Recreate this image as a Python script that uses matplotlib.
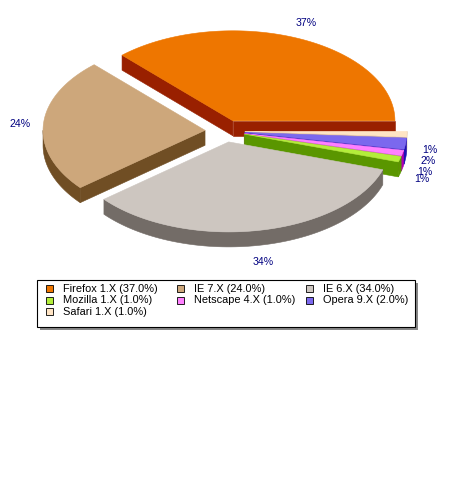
import numpy as np
import matplotlib.pyplot as plt
from matplotlib.patches import Polygon, Rectangle

# data
browsers = ['Firefox 1.X', 'IE 7.X', 'IE 6.X', 'Mozilla 1.X', 'Netscape 4.X', 'Opera 9.X', 'Safari 1.X']
shares = [37.0, 24.0, 34.0, 1.0, 1.0, 2.0, 1.0]
top_colors = ['#EE7600', '#CDA77B', '#CDC6C0', '#B3EE3A', '#FF80FF', '#7B68EE', '#FFE4C4']
side_colors = ['#992000', '#704E24', '#736C67', '#5A9600', '#B000B0', '#1E10B4', '#D8B894']

# geometry (pixels)
cx, cy = 225.0, 131.0
rx, ry = 162.0, 90.0
depth = 15.0
explode = 20.0 / rx

fig = plt.figure(figsize=(4.5, 5), dpi=100)
ax = fig.add_axes([0, 0, 1, 1])
ax.set_xlim(0, 450)
ax.set_ylim(500, 0)
ax.axis('off')


def pt(x0, y0, th):
    return (x0 + rx * np.cos(th), y0 - ry * np.sin(th))


total = sum(shares)
angles = np.cumsum([0] + shares) / total * 2 * np.pi
slices = []
for i in range(len(shares)):
    a, b = angles[i], angles[i + 1]
    mid = (a + b) / 2
    ox = cx + explode * rx * np.cos(mid)
    oy = cy - explode * ry * np.sin(mid)
    slices.append((oy, i, a, b, ox))

# back to front
slices.sort()
z = 1
for oy, i, a, b, ox in slices:
    sc = side_colors[i]
    polys = []
    # radial faces facing the viewer
    for th, vis in ((a, np.cos(a) > 0), (b, np.cos(b) < 0)):
        if vis:
            ex, ey = pt(ox, oy, th)
            polys.append([(ox, oy), (ex, ey), (ex, ey + depth), (ox, oy + depth)])
    # curved front side
    lo, hi = max(a, np.pi), min(b, 2 * np.pi)
    if hi > lo:
        th = np.linspace(lo, hi, 80)
        xs = ox + rx * np.cos(th)
        ys = oy - ry * np.sin(th)
        pts = list(zip(xs, ys)) + list(zip(xs[::-1], ys[::-1] + depth))
        polys.append(pts)
    for p in polys:
        ax.add_patch(Polygon(p, closed=True, facecolor=sc, edgecolor=sc, lw=0.4, zorder=z))
    th = np.linspace(a, b, 120)
    top = [(ox, oy)] + list(zip(ox + rx * np.cos(th), oy - ry * np.sin(th)))
    ax.add_patch(Polygon(top, closed=True, facecolor=top_colors[i], edgecolor=top_colors[i],
                         lw=0.4, zorder=z + 1))
    z += 2

# percentage labels
for i in range(len(shares)):
    mid = (angles[i] + angles[i + 1]) / 2
    lx = cx + 205 * np.cos(mid)
    ly = cy - 118 * np.sin(mid)
    if np.sin(mid) < 0:
        ly += depth
    ax.text(lx, ly, '%d%%' % round(shares[i] / total * 100), color='#000080',
            fontsize=7.6, family='Liberation Sans', ha='center', va='center', zorder=50)

# legend box
ax.add_patch(Rectangle((40, 283), 378, 47, facecolor='#888888', edgecolor='none', zorder=40))
ax.add_patch(Rectangle((37, 280), 378, 47, facecolor='white', edgecolor='black', lw=0.8, zorder=41))
col_x = [46, 177, 306]
for i, name in enumerate(browsers):
    r, c = divmod(i, 3)
    y = 288.5 + r * 11.6
    ax.add_patch(Rectangle((col_x[c], y - 3.5), 7, 7, facecolor=top_colors[i],
                           edgecolor='black', lw=0.6, zorder=42))
    ax.text(col_x[c] + 17, y, '%s (%.1f%%)' % (name, shares[i]), fontsize=7.9,
            family='Liberation Sans', va='center', ha='left', zorder=42)

fig.savefig('out.png', dpi=100)
